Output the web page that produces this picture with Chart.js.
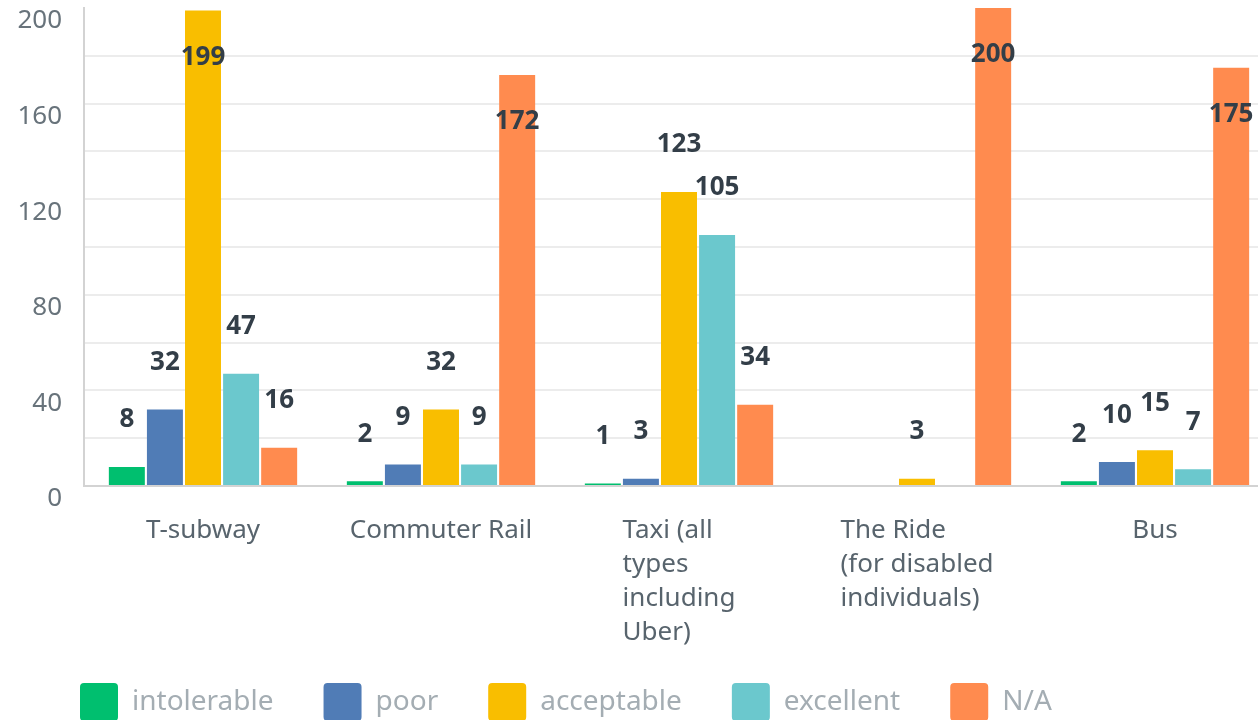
<!DOCTYPE html>
<html>
<head>
<meta charset="utf-8">
<script src="https://cdn.jsdelivr.net/npm/chart.js@4/dist/chart.umd.min.js"></script>
<style>
  html, body { margin: 0; padding: 0; overflow: hidden; background: #fff; }
  canvas { display: block; }
</style>
</head>
<body>
<canvas id="chart" width="1274" height="740"></canvas>
<script>
const categories = [
  ['T-subway'],
  ['Commuter Rail'],
  ['Taxi (all', 'types', 'including', 'Uber)'],
  ['The Ride', '(for disabled', 'individuals)'],
  ['Bus']
];
const seriesNames = ['intolerable', 'poor', 'acceptable', 'excellent', 'N/A'];
const intolerable = [8, 2, 1, 0, 2];
const poor = [32, 9, 3, 0, 10];
const acceptable = [199, 32, 123, 3, 15];
const excellent = [47, 9, 105, 0, 7];
const notApplicable = [16, 172, 34, 200, 175];
const yTicks = [0, 40, 80, 120, 160, 200];

const colors = ['#00BF6F', '#507CB6', '#F9BE00', '#6BC8CD', '#FF8B4F'];
const FONT = '"Noto Sans", "Open Sans", sans-serif';

// value labels above the bars (inside the top for the tall ones)
const valueLabels = {
  id: 'valueLabels',
  afterDatasetsDraw(chart) {
    const ctx = chart.ctx;
    ctx.save();
    ctx.font = 'bold 26px ' + FONT;
    ctx.fillStyle = '#333e48';
    ctx.textAlign = 'center';
    ctx.textBaseline = 'middle';
    chart.data.datasets.forEach((ds, di) => {
      chart.getDatasetMeta(di).data.forEach((bar, i) => {
        const v = ds.data[i];
        if (!v) return;
        const y = v > 150 ? bar.y + 47 : bar.y - 47;
        ctx.fillText(String(v), bar.x, y);
      });
    });
    ctx.restore();
  }
};

// category labels: block centred on the tick, lines left-aligned
const categoryLabels = {
  id: 'categoryLabels',
  afterDraw(chart) {
    const ctx = chart.ctx;
    const xs = chart.scales.x;
    ctx.save();
    ctx.font = '26px ' + FONT;
    ctx.fillStyle = '#58646d';
    ctx.textAlign = 'left';
    ctx.textBaseline = 'middle';
    categories.forEach((lines, i) => {
      const cx = xs.getPixelForValue(i);
      const w = Math.max(...lines.map(l => ctx.measureText(l).width));
      lines.forEach((l, j) => {
        ctx.fillText(l, cx - w / 2, chart.chartArea.bottom + 45 + j * 34);
      });
    });
    ctx.restore();
  }
};

const moveLegend = {
  id: 'moveLegend',
  afterLayout(chart) {
    chart.legend.left = 30;
    chart.legend.top = 633;
  }
};

const seriesValues = [intolerable, poor, acceptable, excellent, notApplicable];

new Chart(document.getElementById('chart'), {
  type: 'bar',
  data: {
    labels: categories.map(c => c.join(' ')),
    datasets: seriesNames.map((name, k) => ({
      label: name,
      data: seriesValues[k],
      backgroundColor: colors[k],
      barPercentage: 0.945,
      categoryPercentage: 0.8
    }))
  },
  options: {
    responsive: false,
    animation: false,
    layout: { padding: { top: 8, left: 0, right: 0, bottom: 0 } },
    plugins: {
      tooltip: { enabled: false },
      legend: {
        position: 'bottom',
        align: 'start',
        labels: {
          boxWidth: 38,
          boxHeight: 38,
          useBorderRadius: true,
          borderRadius: 4,
          padding: 50,
          color: '#a4adb3',
          font: { family: FONT, size: 28 }
        }
      }
    },
    scales: {
      x: {
        grid: { display: false },
        border: { color: '#d3d3d3', width: 2 },
        ticks: { display: false },
        afterFit(scale) {
          scale.height = 156;
          scale.paddingLeft = 0;
          scale.paddingRight = 0;
        }
      },
      y: {
        min: 0,
        max: 200,
        grid: {
          drawTicks: false,
          color: c => c.tick.value === 200 ? 'rgba(0,0,0,0)' : '#ececec',
          lineWidth: 2
        },
        border: { color: '#d3d3d3', width: 2 },
        ticks: {
          stepSize: 20,
          padding: 22,
          labelOffset: 13,
          color: '#68737b',
          font: { family: FONT, size: 26 },
          callback: v => yTicks.includes(v) ? String(v) : ''
        },
        afterFit(scale) {
          scale.width = 84;
          scale.paddingTop = 0;
          scale.paddingBottom = 0;
        }
      }
    }
  },
  plugins: [valueLabels, categoryLabels, moveLegend]
});
</script>
</body>
</html>
